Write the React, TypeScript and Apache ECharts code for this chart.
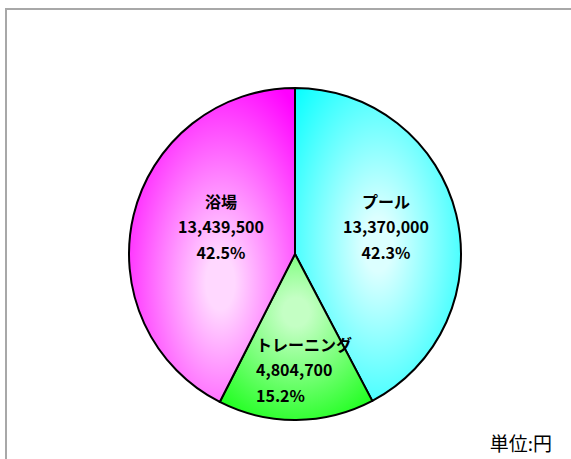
import React, { useEffect, useRef } from "react";
import * as echarts from "echarts";

const categories = ["プール", "トレーニング", "浴場"];
const values = [13370000, 4804700, 13439500];
const unitLabel = "単位:円";

const edgeColors = ["#00ffff", "#22ff22", "#ff00ff"];
const lightColors = ["#dcffff", "#c4ffc4", "#ffd8ff"];
const gradCenters = [
  [0.5, 0.5],
  [0.5, 0.35],
  [0.55, 0.62],
];
const labelPos = [
  { x: 386, y: 226, align: "center" },
  { x: 256, y: 369, align: "left" },
  { x: 221, y: 226, align: "center" },
];

export default function App() {
  const ref = useRef<HTMLDivElement>(null);
  useEffect(() => {
    if (!ref.current) return;
    const chart = echarts.init(ref.current, null, { renderer: "svg" });
    const data = categories.map((name, i) => ({
      name,
      value: values[i],
      itemStyle: {
        color: new echarts.graphic.RadialGradient(gradCenters[i][0], gradCenters[i][1], 0.72, [
          { offset: 0, color: lightColors[i] },
          { offset: 0.12, color: lightColors[i] },
          { offset: 1, color: edgeColors[i] },
        ]),
      },
      label: { align: labelPos[i].align },
    }));
    chart.setOption({
      animation: false,
      backgroundColor: "#ffffff",
      graphic: [
        {
          type: "rect",
          shape: { x: 6, y: 9, width: 700, height: 600 },
          style: { fill: "none", stroke: "#a8a8a8", lineWidth: 2 },
          silent: true,
        },
        {
          type: "text",
          right: 19,
          top: 433,
          style: {
            text: unitLabel,
            fontSize: 19,
            fontFamily: "Noto Sans CJK JP",
            fill: "#000",
          },
        },
      ],
      series: [
        {
          type: "pie",
          center: [295, 254],
          radius: 166,
          startAngle: 90,
          clockwise: true,
          percentPrecision: 1,
          data,
          itemStyle: { borderColor: "#000", borderWidth: 2 },
          emphasis: { disabled: true },
          label: {
            show: true,
            position: "inside",
            fontFamily: "Noto Sans CJK JP",
            fontWeight: "bold",
            fontSize: 16,
            lineHeight: 25.5,
            color: "#000",
            formatter: (p: any) =>
              p.name + "\n" + Number(p.value).toLocaleString("en-US") + "\n" + p.percent.toFixed(1) + "%",
          },
          labelLine: { show: false },
          labelLayout: (params: any) => {
            const pos = labelPos[params.dataIndex];
            return { x: pos.x, y: pos.y, align: pos.align, verticalAlign: "middle" };
          },
        },
      ],
    });
    return () => chart.dispose();
  }, []);
  return (
    <div
      ref={ref}
      style={{ position: "absolute", left: 0, top: 0, width: 571, height: 459 }}
    />
  );
}
